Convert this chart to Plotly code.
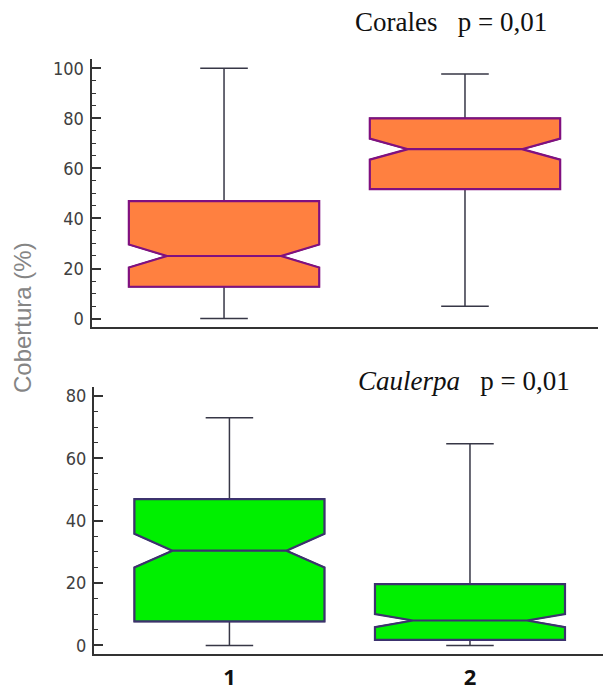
import plotly.graph_objects as go

# ---- data ----
categories = ["1", "2"]

# Corales (top panel)
cor_q1 = [12.7, 51.7]
cor_median = [25.0, 67.7]
cor_q3 = [46.9, 80.0]
cor_low = [0.0, 4.9]
cor_high = [100.0, 97.7]
cor_notch = [4.6, 4.2]

# Caulerpa (bottom panel)
cau_q1 = [7.7, 1.8]
cau_median = [30.4, 8.0]
cau_q3 = [46.9, 19.7]
cau_low = [0.0, 0.0]
cau_high = [73.0, 64.7]
cau_notch = [5.4, 2.1]

top_ticks = [0, 20, 40, 60, 80, 100]
bottom_ticks = [0, 20, 40, 60, 80]

W, H = 603, 691


def px(x):
    return x / W


def py(y):
    return 1 - y / H


orange = "rgb(255,128,64)"
purple = "rgb(128,16,128)"
green = "rgb(0,240,0)"
navy = "rgb(60,50,110)"
whisk = "rgb(55,55,70)"

fig = go.Figure()


def add_panel(q1, med, q3, lo, hi, ns, fill, edge, xa, ya):
    # whiskers (dark gray) with caps
    fig.add_trace(go.Box(
        x=categories, q1=q1, median=med, q3=q3, lowerfence=lo, upperfence=hi,
        notched=True, notchspan=ns, notchwidth=0.2, width=0.79,
        whiskerwidth=0.25, fillcolor=fill, line=dict(color=whisk, width=1.5),
        boxpoints=False, xaxis=xa, yaxis=ya, showlegend=False, hoverinfo="skip"))
    # box body with coloured outline
    fig.add_trace(go.Box(
        x=categories, q1=q1, median=med, q3=q3, lowerfence=q1, upperfence=q3,
        notched=True, notchspan=ns, notchwidth=0.2, width=0.79,
        whiskerwidth=0, fillcolor=fill, line=dict(color=edge, width=2.2),
        boxpoints=False, xaxis=xa, yaxis=ya, showlegend=False, hoverinfo="skip"))


add_panel(cor_q1, cor_median, cor_q3, cor_low, cor_high, cor_notch, orange, purple, "x", "y")
add_panel(cau_q1, cau_median, cau_q3, cau_low, cau_high, cau_notch, green, navy, "x2", "y2")

axis_line = dict(showline=True, linecolor="#333", linewidth=2, showgrid=False, zeroline=False)
ytick_font = dict(family="Liberation Sans Narrow, DejaVu Sans Condensed, Arial", size=18, color="#404040")

fig.update_layout(
    width=W, height=H,
    margin=dict(l=0, r=0, t=0, b=0),
    paper_bgcolor="white", plot_bgcolor="white",
    boxmode="overlay",
    xaxis=dict(domain=[px(91.5), px(598)], range=[-0.55, 1.552], type="category",
               showticklabels=False, ticks="", anchor="y", **axis_line),
    yaxis=dict(domain=[py(333), py(58)], range=[-3.3, 103.9], anchor="x",
               tickvals=top_ticks, ticks="inside", ticklen=9, tickwidth=1.5, tickcolor="#333",
               minor=dict(dtick=5, ticks="inside", ticklen=4, tickwidth=1.2, tickcolor="#333"),
               tickfont=ytick_font, ticklabelstandoff=2, **axis_line),
    xaxis2=dict(domain=[px(94), 1.0], range=[-0.563, 1.553], type="category",
                ticks="", anchor="y2", tickfont=dict(family="Open Sans", size=22, color="#111", weight="bold"),
                ticklabelstandoff=3, **axis_line),
    yaxis2=dict(domain=[py(668), py(395)], range=[-2.6, 82.8], anchor="x2",
                tickvals=bottom_ticks, ticks="inside", ticklen=9, tickwidth=1.5, tickcolor="#333",
                minor=dict(dtick=5, ticks="inside", ticklen=4, tickwidth=1.2, tickcolor="#333"),
                tickfont=ytick_font, ticklabelstandoff=2, **axis_line),
    annotations=[
        dict(text="Corales&nbsp;&nbsp;&nbsp;p = 0,01", xref="paper", yref="paper",
             x=px(353), y=py(20), xanchor="left", yanchor="middle", showarrow=False,
             font=dict(family="Liberation Serif, Times New Roman", size=27, color="#111")),
        dict(text="<i>Caulerpa</i>&nbsp;&nbsp;&nbsp;p = 0,01", xref="paper", yref="paper",
             x=px(356), y=py(389), xanchor="left", yanchor="middle", showarrow=False,
             font=dict(family="Liberation Serif, Times New Roman", size=27, color="#111")),
        dict(text="Cobertura (%)", xref="paper", yref="paper", textangle=-90,
             x=px(22), y=py(324), xanchor="center", yanchor="middle", showarrow=False,
             font=dict(family="Liberation Sans, Arial", size=24, color="#858585")),
    ],
)

fig.write_html("out.html", config={"displayModeBar": False},
               post_script="document.body.style.margin='0';document.body.style.overflow='hidden';")
